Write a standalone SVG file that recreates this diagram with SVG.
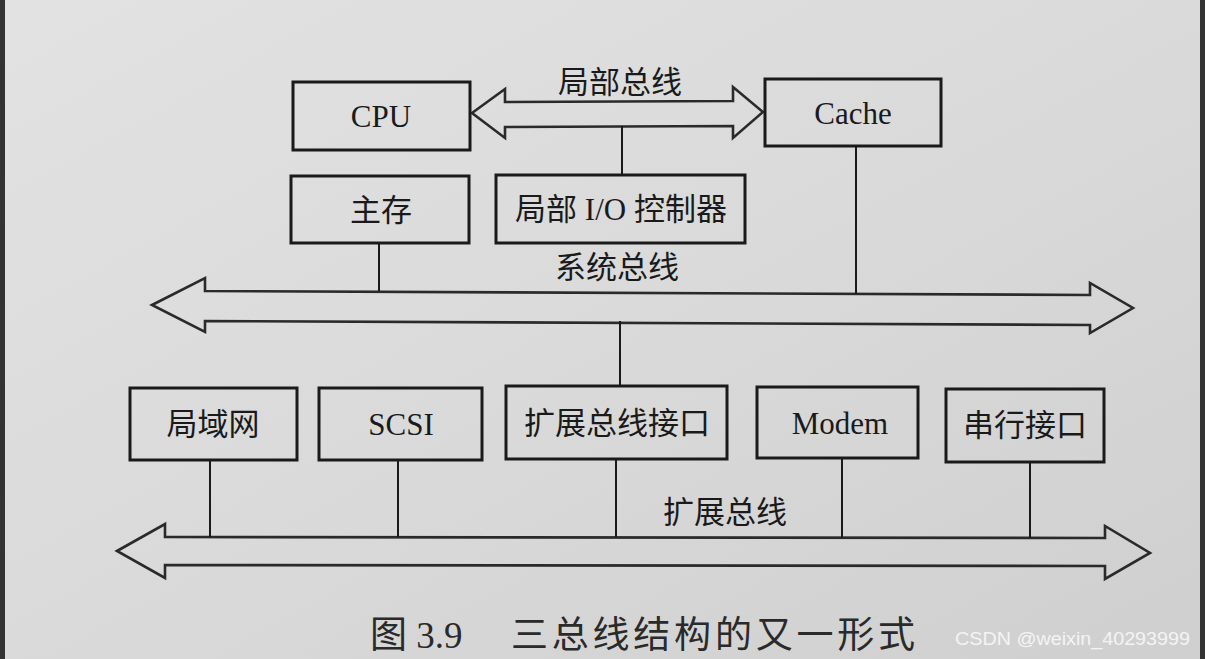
<svg xmlns="http://www.w3.org/2000/svg" width="1205" height="659" viewBox="0 0 1205 659">
<defs>
<linearGradient id="bg" x1="0" y1="0" x2="1" y2="1">
<stop offset="0" stop-color="#e2e2e2"/>
<stop offset="0.5" stop-color="#dadada"/>
<stop offset="1" stop-color="#cfcfcf"/>
</linearGradient>
<style>
.box{fill:none;stroke:#1a1a1a;stroke-width:3}
.bus{fill:none;stroke:#2a2a2a;stroke-width:2.6;stroke-linejoin:miter}
.ln{stroke:#1a1a1a;stroke-width:2;fill:none}
.t{font-family:"Liberation Serif","Noto Sans CJK SC",serif;font-size:31px;fill:#1a1a1a;text-anchor:middle}
.cap{font-family:"Liberation Serif","Noto Sans CJK SC",serif;font-size:37px;fill:#2a2a2a}
.wm{font-family:"Liberation Sans",sans-serif;font-size:18px;fill:#f4f4f4}
</style>
</defs>
<rect x="0" y="0" width="1205" height="659" fill="url(#bg)"/>
<rect x="0" y="0" width="5" height="659" fill="#333"/>
<rect x="1200" y="0" width="5" height="659" fill="#333"/>

<g id="connectors">
<polygon id="local-bus" class="bus" points="472,113 505,89 505,102 733,101 733,87 763,112 733,138 733,126 505,127 505,138"/>
<polygon id="system-bus" class="bus" points="152,305 205,278 205,291 1090,295 1090,283 1133,308 1090,333 1090,325 205,321 205,332"/>
<polygon id="expansion-bus" class="bus" points="117,551 165,524 165,537 1105,538 1105,526 1150,553 1105,579 1105,566 165,565 165,578"/>
<line class="ln" x1="622" y1="126" x2="622" y2="175"/>
<line class="ln" x1="856" y1="146" x2="856" y2="294"/>
<line class="ln" x1="379" y1="243" x2="379" y2="291"/>
<line class="ln" x1="620" y1="321" x2="620" y2="387"/>
<line class="ln" x1="210" y1="460" x2="210" y2="537"/>
<line class="ln" x1="398" y1="460" x2="398" y2="537"/>
<line class="ln" x1="616" y1="459" x2="616" y2="537"/>
<line class="ln" x1="842" y1="458" x2="842" y2="538"/>
<line class="ln" x1="1030" y1="462" x2="1030" y2="538"/>
<text class="t" x="620" y="93">局部总线</text>
<text class="t" x="617" y="278">系统总线</text>
<text class="t" x="725" y="523">扩展总线</text>
</g>

<g id="cpu"><rect class="box" x="293" y="82" width="177" height="68"/><text class="t" x="381" y="127">CPU</text></g>
<g id="cache"><rect class="box" x="765" y="79" width="176" height="67"/><text class="t" x="853" y="124">Cache</text></g>
<g id="main-memory"><rect class="box" x="291" y="176" width="178" height="67"/><text class="t" x="381" y="221">主存</text></g>
<g id="local-io"><rect class="box" x="496" y="175" width="249" height="68"/><text class="t" x="621" y="220">局部 I/O 控制器</text></g>

<g id="lan"><rect class="box" x="130" y="388" width="167" height="72"/><text class="t" x="213" y="435">局域网</text></g>
<g id="scsi"><rect class="box" x="319" y="388" width="163" height="72"/><text class="t" x="401" y="435">SCSI</text></g>
<g id="ext-if"><rect class="box" x="506" y="386" width="221" height="73"/><text class="t" x="617" y="434">扩展总线接口</text></g>
<g id="modem"><rect class="box" x="757" y="387" width="161" height="71"/><text class="t" x="840" y="434">Modem</text></g>
<g id="serial"><rect class="box" x="946" y="389" width="158" height="73"/><text class="t" x="1025" y="436">串行接口</text></g>

<text class="cap" x="370" y="648">图 3.9</text>
<text class="cap" x="511" y="648" textLength="404" lengthAdjust="spacing">三总线结构的又一形式</text>
<text class="wm" x="955" y="645" textLength="235" lengthAdjust="spacingAndGlyphs">CSDN @weixin_40293999</text>
</svg>
